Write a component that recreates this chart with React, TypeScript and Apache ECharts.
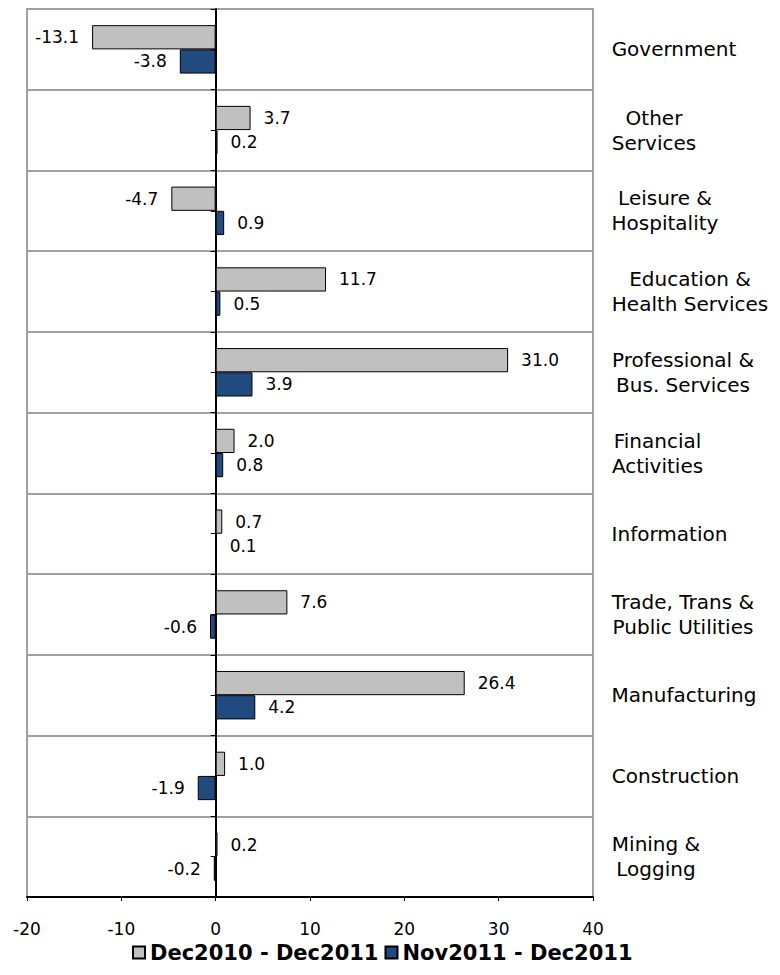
import React, { useEffect, useRef } from "react";
import * as echarts from "echarts";

const categories = [
  "Government",
  "Other\nServices",
  "Leisure &\nHospitality",
  "Education &\nHealth Services",
  "Professional &\nBus. Services",
  "Financial\nActivities",
  "Information",
  "Trade, Trans &\nPublic Utilities",
  "Manufacturing",
  "Construction",
  "Mining &\nLogging",
];
const seriesNames = ["Dec2010 - Dec2011", "Nov2011 - Dec2011"];
const yearChange = [-13.1, 3.7, -4.7, 11.7, 31.0, 2.0, 0.7, 7.6, 26.4, 1.0, 0.2];
const monthChange = [-3.8, 0.2, 0.9, 0.5, 3.9, 0.8, 0.1, -0.6, 4.2, -1.9, -0.2];
const xMin = -20;
const xMax = 40;
const xInterval = 10;

const FONT = '"DejaVu Sans", Verdana, sans-serif';
const CAT_SIZE = 20;

function measure(text: string, size: number): number {
  const c = document.createElement("canvas");
  const ctx = c.getContext("2d");
  if (!ctx) return text.length * size * 0.6;
  ctx.font = `${size}px "DejaVu Sans"`;
  return ctx.measureText(text).width;
}

export default function App() {
  const ref = useRef<HTMLDivElement>(null);
  useEffect(() => {
    document.body.style.margin = "0";
    if (!ref.current) return;
    const chart = echarts.init(ref.current, undefined, { renderer: "svg" });

    const rich: Record<string, any> = {};
    categories.forEach((c, i) => {
      const w = Math.max(...c.split("\n").map((l) => measure(l, CAT_SIZE)));
      rich["c" + i] = {
        width: Math.ceil(w) + 1,
        align: "center",
        fontSize: CAT_SIZE,
        fontFamily: FONT,
        color: "#000",
        lineHeight: 25,
      };
    });

    const mkData = (vals: number[]) =>
      vals.map((v) => ({
        value: v,
        label: { position: v < 0 ? "left" : "right" },
      }));

    const labelCfg = {
      show: true,
      distance: 13,
      fontSize: 17,
      fontFamily: FONT,
      color: "#000",
      formatter: (p: any) => Number(p.value).toFixed(1),
    };

    chart.setOption({
      animation: false,
      backgroundColor: "#fff",
      grid: {
        left: 27,
        top: 9,
        right: 187,
        bottom: 78,
        show: true,
        borderColor: "#a0a0a0",
        borderWidth: 2,
        backgroundColor: "transparent",
      },
      legend: {
        data: seriesNames,
        top: 937,
        left: 127,
        icon: "rect",
        itemWidth: 12,
        itemHeight: 12,
        itemGap: 6,
        textStyle: {
          fontFamily: FONT,
          fontSize: 21,
          fontWeight: "bold",
          color: "#000",
        },
      },
      xAxis: {
        type: "value",
        min: xMin,
        max: xMax,
        interval: xInterval,
        axisLine: { show: true, onZero: false, lineStyle: { color: "#000", width: 2 } },
        axisTick: { show: true, length: 4, lineStyle: { color: "#000", width: 1 } },
        axisLabel: { fontSize: 17, fontFamily: FONT, color: "#000", margin: 23 },
        splitLine: { show: false },
      },
      yAxis: [
        {
          type: "category",
          data: categories,
          inverse: true,
          position: "right",
          axisLine: { show: false, onZero: false },
          axisTick: { show: false },
          axisLabel: {
            margin: 18,
            align: "left",
            formatter: (v: string, i: number) =>
              v
                .split("\n")
                .map((l) => `{c${i}|${l}}`)
                .join("\n"),
            rich,
          },
          splitLine: { show: true, lineStyle: { color: "#a0a0a0", width: 2 } },
        },
        {
          type: "category",
          data: Array.from({ length: categories.length * 2 }, () => ""),
          inverse: true,
          position: "left",
          axisLine: {
            show: true,
            onZero: true,
            onZeroAxisIndex: 0,
            lineStyle: { color: "#000", width: 2 },
          },
          axisTick: { show: true, length: 5, lineStyle: { color: "#000", width: 1 } },
          axisLabel: { show: false },
          splitLine: { show: false },
        },
      ],
      series: [
        {
          name: seriesNames[0],
          type: "bar",
          yAxisIndex: 0,
          data: mkData(yearChange),
          barCategoryGap: "40%",
          barGap: "0%",
          itemStyle: { color: "#c0c0c0", borderColor: "#000", borderWidth: 1 },
          label: labelCfg,
        },
        {
          name: seriesNames[1],
          type: "bar",
          yAxisIndex: 0,
          data: mkData(monthChange),
          barCategoryGap: "40%",
          barGap: "0%",
          itemStyle: { color: "#214a7e", borderColor: "#000", borderWidth: 1 },
          label: labelCfg,
        },
      ],
    });
    return () => chart.dispose();
  }, []);
  return <div ref={ref} style={{ width: 780, height: 975 }} />;
}
